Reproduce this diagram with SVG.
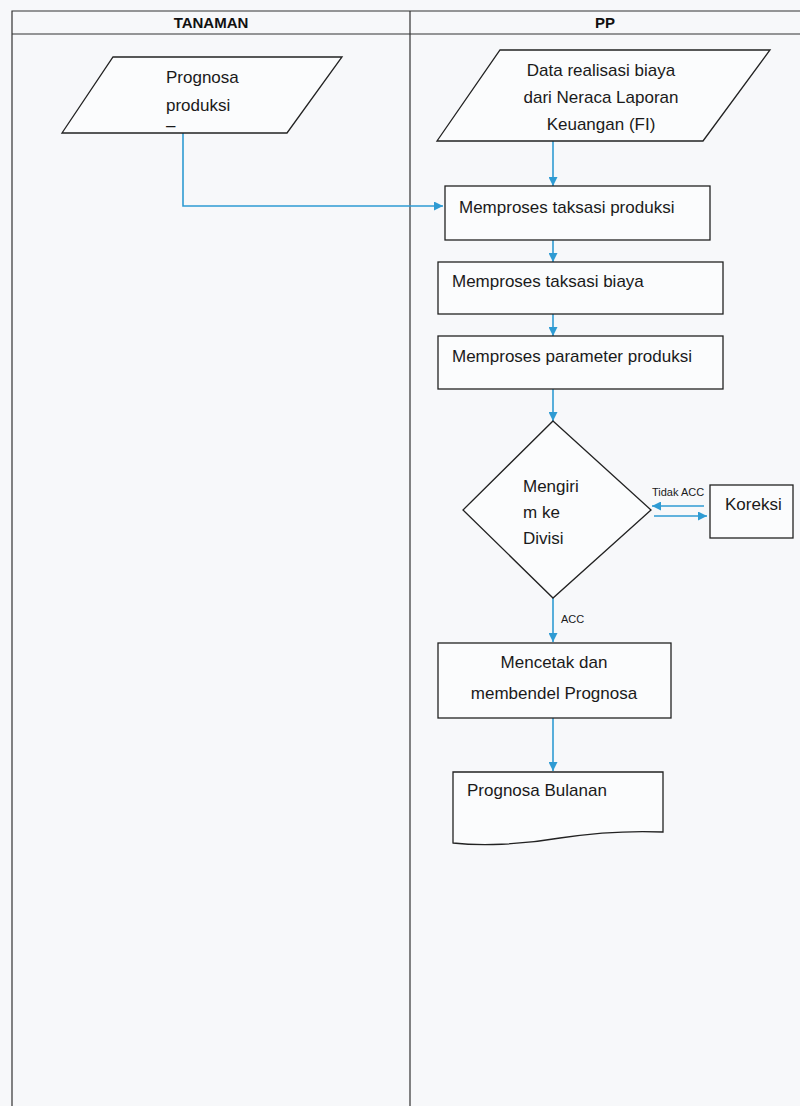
<svg xmlns="http://www.w3.org/2000/svg" width="800" height="1106" viewBox="0 0 800 1106">
  <defs>
    <marker id="arrow" viewBox="0 0 10 10" refX="10" refY="5" markerWidth="9" markerHeight="9" markerUnits="userSpaceOnUse" orient="auto">
      <path d="M0,0 L10,5 L0,10 Z" fill="#2f9bd3"/>
    </marker>
    <style>
      .shape { fill: #fbfcfd; stroke: #222; stroke-width: 1.3; }
      .lane { fill: none; stroke: #333; stroke-width: 1.2; }
      .flow { fill: none; stroke: #2f9bd3; stroke-width: 1.6; marker-end: url(#arrow); }
      .txt { font-family: "Liberation Sans", Arial, sans-serif; font-size: 17px; fill: #1a1a1a; }
      .mid { text-anchor: middle; }
      .head { font-family: "Liberation Sans", Arial, sans-serif; font-size: 15px; font-weight: bold; fill: #111; text-anchor: middle; }
      .small { font-family: "Liberation Sans", Arial, sans-serif; font-size: 11px; fill: #1a1a1a; }
    </style>
  </defs>

  <rect x="0" y="0" width="800" height="1106" fill="#f7f8fa"/>

  <!-- swimlane frame -->
  <g id="lanes">
    <path class="lane" d="M12,1106 V11 H800 M12,34 H800 M410,11 V1106"/>
    <text class="head" x="211" y="28">TANAMAN</text>
    <text class="head" x="605" y="28">PP</text>
  </g>

  <!-- connectors -->
  <g id="connectors">
    <path class="flow" d="M183,133 V206 H443"/>
    <path class="flow" d="M553,141 V186"/>
    <path class="flow" d="M553,240 V262"/>
    <path class="flow" d="M553,314 V336"/>
    <path class="flow" d="M553,389 V421"/>
    <path class="flow" d="M704,506 H652"/>
    <path class="flow" d="M654,516 H707"/>
    <path class="flow" d="M553,598 V642"/>
    <path class="flow" d="M553,718 V771"/>
    <text class="small" x="652" y="496">Tidak ACC</text>
    <text class="small" x="561" y="623">ACC</text>
  </g>

  <g id="prognosa-produksi">
    <polygon class="shape" points="113,57 342,57 287,133 62,133"/>
    <text class="txt" x="166" y="83">Prognosa</text>
    <text class="txt" x="166" y="111">produksi</text>
    <text class="txt" x="166" y="131">–</text>
  </g>

  <g id="data-realisasi">
    <polygon class="shape" points="500,50 770,50 703,141 437,141"/>
    <text class="txt mid" x="601" y="76">Data realisasi biaya</text>
    <text class="txt mid" x="601" y="103">dari Neraca Laporan</text>
    <text class="txt mid" x="601" y="130">Keuangan (FI)</text>
  </g>

  <g id="taksasi-produksi">
    <rect class="shape" x="445" y="186" width="265" height="54"/>
    <text class="txt" x="459" y="213">Memproses taksasi produksi</text>
  </g>

  <g id="taksasi-biaya">
    <rect class="shape" x="438" y="262" width="285" height="52"/>
    <text class="txt" x="452" y="287">Memproses taksasi biaya</text>
  </g>

  <g id="parameter-produksi">
    <rect class="shape" x="438" y="336" width="285" height="53"/>
    <text class="txt" x="452" y="362">Memproses parameter produksi</text>
  </g>

  <g id="mengirim-divisi">
    <polygon class="shape" points="553,421 651,510 553,598 463,510"/>
    <text class="txt" x="523" y="492">Mengiri</text>
    <text class="txt" x="523" y="518">m ke</text>
    <text class="txt" x="523" y="544">Divisi</text>
  </g>

  <g id="koreksi">
    <rect class="shape" x="710" y="485" width="83" height="53"/>
    <text class="txt" x="725" y="510">Koreksi</text>
  </g>

  <g id="mencetak">
    <rect class="shape" x="438" y="643" width="233" height="75"/>
    <text class="txt mid" x="554" y="668">Mencetak dan</text>
    <text class="txt mid" x="554" y="699">membendel Prognosa</text>
  </g>

  <g id="prognosa-bulanan">
    <path class="shape" d="M453,772 H663 V832 C640,831 600,832 560,838 C520,845 480,846 453,843 Z"/>
    <text class="txt" x="467" y="796">Prognosa Bulanan</text>
  </g>
</svg>
